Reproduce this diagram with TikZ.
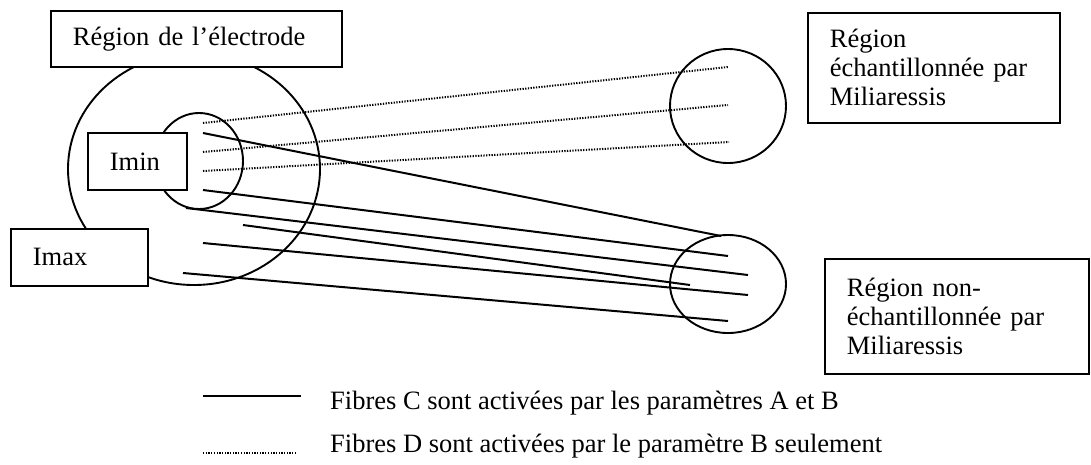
\documentclass[tikz,border=0pt]{standalone}
\usepackage{fontspec}
\setmainfont{Liberation Serif}
\usetikzlibrary{shapes.geometric}
\begin{document}
\begin{tikzpicture}[x=1pt,y=-1pt,
  lbl/.style={draw, line width=1.8pt, fill=white, rectangle, inner xsep=22pt,
    inner ysep=0pt, align=left, anchor=north west,
    font=\fontsize{26.5}{29}\selectfont},
  oval/.style={draw, ellipse, line width=1.9pt, inner sep=0pt},
  fibre/.style={line width=2pt},
  fibredot/.style={line width=2pt, dash pattern=on 1.3pt off 1.4pt},
  legtext/.style={anchor=base west, inner sep=0pt, font=\fontsize{26.5}{29}\selectfont},
]
\useasboundingbox (0,0) rectangle (1091,464);

% regions
\node[oval, minimum width=252pt, minimum height=232pt] (big) at (194,169) {};
\node[oval, minimum width=88pt, minimum height=96pt] (small) at (199,161) {};
\node[oval, minimum width=116pt, minimum height=114pt] (ur) at (728,106) {};
\node[oval, minimum width=116pt, minimum height=98pt] (lr) at (728,284) {};

% fibre end points
\coordinate (d1s) at (203,123); \coordinate (d1e) at (728,67);
\coordinate (d2s) at (203,152); \coordinate (d2e) at (728,105);
\coordinate (d3s) at (203,171); \coordinate (d3e) at (729,142);
\coordinate (as) at (203,133); \coordinate (ae) at (721,236);
\coordinate (bs) at (203,190); \coordinate (be) at (728,256);
\coordinate (cs) at (186,208); \coordinate (ce) at (748,275);
\coordinate (ds) at (243,225); \coordinate (de) at (690,285);
\coordinate (es) at (203,243); \coordinate (ee) at (748,295);
\coordinate (fs) at (183,273); \coordinate (fe) at (728,321);

\draw[fibredot] (d1s) -- (d1e);
\draw[fibredot] (d2s) -- (d2e);
\draw[fibredot] (d3s) -- (d3e);
\draw[fibre] (as) -- (ae);
\draw[fibre] (bs) -- (be);
\draw[fibre] (cs) -- (ce);
\draw[fibre] (ds) -- (de);
\draw[fibre] (es) -- (ee);
\draw[fibre] (fs) -- (fe);

% label boxes
\node[lbl, text width=247pt, minimum height=56pt] (elec) at (50,10) {Région de l'électrode};
\node[lbl, text width=55pt, minimum height=57pt] (imin) at (87,132) {Imin};
\node[lbl, text width=93pt, minimum height=57pt] (imax) at (10,228) {Imax};
\node[lbl, text width=208pt, minimum height=110pt] (samp) at (807,12)
  {Région\\échantillonnée par\\Miliaressis};
\node[lbl, text width=220pt, minimum height=115pt] (nonsamp) at (824,258)
  {Région non-\\échantillonnée par\\Miliaressis};

% legend
\coordinate (l1s) at (203,396); \coordinate (l1e) at (301,396);
\coordinate (l2s) at (203,453); \coordinate (l2e) at (297,453);
\draw[fibre] (l1s) -- (l1e);
\draw[fibredot] (l2s) -- (l2e);
\node[legtext] (t1) at (330,409) {Fibres C sont activées par les paramètres A et B};
\node[legtext] (t2) at (330,452) {Fibres D sont activées par le paramètre B seulement};
\end{tikzpicture}
\end{document}
